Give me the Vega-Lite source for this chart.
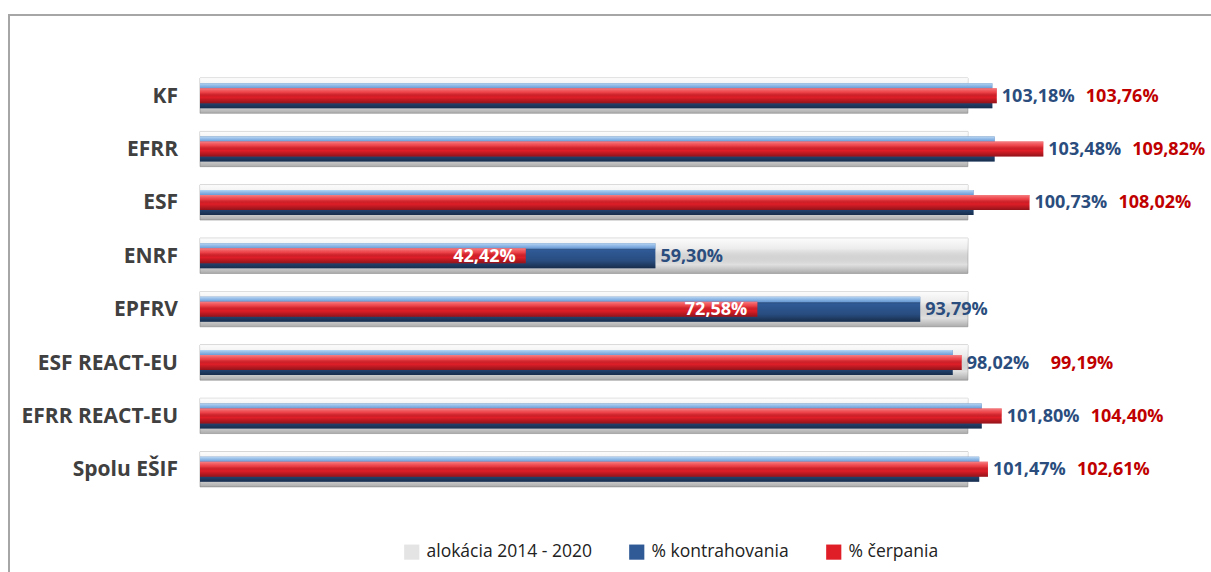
{
  "$schema": "https://vega.github.io/schema/vega-lite/v6.json",
  "width": 1210,
  "height": 580,
  "autosize": {"type": "none"},
  "padding": {"left": 9, "top": 15, "right": 0, "bottom": 0},
  "background": "white",
  "config": {
    "view": {"stroke": "#a6a6a6", "strokeWidth": 2},
    "font": "Open Sans"
  },
  "data": {
    "values": [
      {"cat": "KF", "alok": 100, "kontr": 103.18, "cerp": 103.76},
      {"cat": "EFRR", "alok": 100, "kontr": 103.48, "cerp": 109.82},
      {"cat": "ESF", "alok": 100, "kontr": 100.73, "cerp": 108.02},
      {"cat": "ENRF", "alok": 100, "kontr": 59.30, "cerp": 42.42},
      {"cat": "EPFRV", "alok": 100, "kontr": 93.79, "cerp": 72.58},
      {"cat": "ESF REACT-EU", "alok": 100, "kontr": 98.02, "cerp": 99.19},
      {"cat": "EFRR REACT-EU", "alok": 100, "kontr": 101.80, "cerp": 104.40},
      {"cat": "Spolu EŠIF", "alok": 100, "kontr": 101.47, "cerp": 102.61}
    ]
  },
  "transform": [
    {"calculate": "max(datum.kontr, datum.cerp)", "as": "pos"},
    {"calculate": "replace(format(datum.kontr, '.2f'), '.', ',') + '%'", "as": "klab"},
    {"calculate": "replace(format(datum.cerp, '.2f'), '.', ',') + '%'", "as": "clab"}
  ],
  "encoding": {
    "y": {
      "field": "cat",
      "type": "nominal",
      "sort": null,
      "axis": null,
      "scale": {"range": [54, 481], "paddingInner": 0, "paddingOuter": 0}
    }
  },
  "layer": [
    {
      "mark": {"type": "bar", "height": {"band": 0.66}, "stroke": "#bfbfbf", "strokeWidth": 1},
      "encoding": {
        "x": {"field": "alok", "type": "quantitative", "axis": null, "scale": {"domain": [0, 117.2], "range": [191, 1091], "nice": false}},
        "color": {"datum": "alokácia 2014 - 2020", "type": "nominal",
          "scale": {"domain": ["alokácia 2014 - 2020", "% kontrahovania", "% čerpania"], "range": ["#e4e4e4", "#2f5a96", "#e01e28"]},
          "legend": {
            "title": null, "orient": "none", "direction": "horizontal",
            "legendX": 394, "legendY": 528,
            "symbolType": "square", "symbolSize": 230, "symbolStrokeWidth": 0,
            "labelFont": "Open Sans", "labelFontSize": 17.5, "labelColor": "#222222",
            "labelLimit": 400,
            "columnPadding": 36, "labelOffset": 6
          }
        }
      }
    },
    {
      "mark": {"type": "bar", "height": {"band": 0.66},
        "fill": {"gradient": "linear", "x1": 0, "y1": 0, "x2": 0, "y2": 1,
          "stops": [
            {"offset": 0, "color": "rgba(255,255,255,0.9)"},
            {"offset": 0.3, "color": "rgba(255,255,255,0.3)"},
            {"offset": 0.75, "color": "rgba(0,0,0,0.02)"},
            {"offset": 1, "color": "rgba(0,0,0,0.25)"}
          ]}},
      "encoding": {"x": {"field": "alok", "type": "quantitative"}}
    },
    {
      "mark": {"type": "bar", "height": {"band": 0.47}},
      "encoding": {
        "x": {"field": "kontr", "type": "quantitative"},
        "color": {"datum": "% kontrahovania", "type": "nominal"}
      }
    },
    {
      "mark": {"type": "bar", "height": {"band": 0.47},
        "fill": {"gradient": "linear", "x1": 0, "y1": 0, "x2": 0, "y2": 1,
          "stops": [
            {"offset": 0, "color": "rgba(200,230,255,0.9)"},
            {"offset": 0.2, "color": "rgba(150,200,255,0.6)"},
            {"offset": 0.28, "color": "rgba(0,0,0,0.0)"},
            {"offset": 0.7, "color": "rgba(0,0,0,0.15)"},
            {"offset": 1, "color": "rgba(0,0,0,0.5)"}
          ]}},
      "encoding": {"x": {"field": "kontr", "type": "quantitative"}}
    },
    {
      "mark": {"type": "bar", "height": {"band": 0.28}},
      "encoding": {
        "x": {"field": "cerp", "type": "quantitative"},
        "color": {"datum": "% čerpania", "type": "nominal"}
      }
    },
    {
      "mark": {"type": "bar", "height": {"band": 0.28},
        "fill": {"gradient": "linear", "x1": 0, "y1": 0, "x2": 0, "y2": 1,
          "stops": [
            {"offset": 0, "color": "rgba(255,170,170,0.7)"},
            {"offset": 0.3, "color": "rgba(255,120,120,0.35)"},
            {"offset": 0.6, "color": "rgba(0,0,0,0.0)"},
            {"offset": 1, "color": "rgba(0,0,0,0.35)"}
          ]}},
      "encoding": {"x": {"field": "cerp", "type": "quantitative"}}
    },
    {
      "mark": {"type": "text", "align": "right", "baseline": "middle", "dx": -22, "dy": 1, "fontWeight": "bold", "fontSize": 21, "color": "#404040", "font": "Open Sans"},
      "encoding": {
        "x": {"datum": 0, "type": "quantitative"},
        "text": {"field": "cat"}
      }
    },
    {
      "mark": {"type": "text", "align": "left", "baseline": "middle", "dx": 5, "dy": 1, "fontWeight": "bold", "fontSize": 18, "color": "#2a4d7e", "font": "Open Sans"},
      "encoding": {
        "x": {"field": "pos", "type": "quantitative"},
        "text": {"field": "klab"}
      }
    },
    {
      "transform": [{"filter": "datum.cerp >= 90"}],
      "mark": {"type": "text", "align": "left", "baseline": "middle", "dx": 89, "dy": 1, "fontWeight": "bold", "fontSize": 18, "color": "#c00000", "font": "Open Sans"},
      "encoding": {
        "x": {"field": "pos", "type": "quantitative"},
        "text": {"field": "clab"}
      }
    },
    {
      "transform": [{"filter": "datum.cerp < 90"}],
      "mark": {"type": "text", "align": "right", "baseline": "middle", "dx": -10, "dy": 1, "fontWeight": "bold", "fontSize": 18, "color": "white", "font": "Open Sans"},
      "encoding": {
        "x": {"field": "cerp", "type": "quantitative"},
        "text": {"field": "clab"}
      }
    }
  ]
}
